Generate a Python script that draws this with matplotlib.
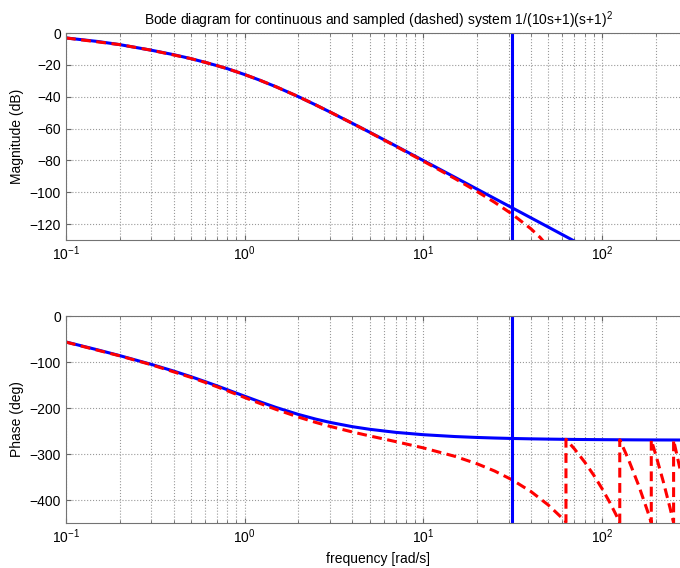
import numpy as np
import matplotlib.pyplot as plt

plt.rcParams['font.family'] = ['Liberation Sans', 'DejaVu Sans']
plt.rcParams['mathtext.default'] = 'regular'

# frequencies [rad/s] and values
w_c = [0.1, 0.15, 0.2, 0.3, 0.4, 0.5, 0.6, 0.7, 0.8, 1, 1.2, 1.5, 2, 2.5, 3, 4,
       5, 7, 10, 15, 20, 25, 31.4, 40, 50, 70, 100, 150, 200, 314]
mag_c = [-3.1, -5.3, -7.3, -10.8, -13.6, -16.1, -18.4, -20.5, -22.4, -26.1,
         -29.4, -33.8, -40.0, -45.2, -49.6, -56.7, -62.3, -70.9, -80.1, -90.6,
         -98.1, -103.9, -109.8, -116.1, -121.9, -130.7, -140, -150, -158, -170]
phase_c = [-56.4, -73.4, -86.1, -105.0, -119.6, -131.8, -142.5, -151.8, -160.2,
           -174.3, -185.6, -198.8, -214.0, -224.1, -231.2, -240.5, -246.2,
           -252.9, -258.0, -262.0, -264.0, -265.2, -266.2, -267.0, -267.6,
           -268.3, -268.8, -269.2, -269.4, -269.6]

w_s_mag = [0.1, 0.2, 0.3, 0.5, 0.6, 0.7, 0.8, 1, 1.2, 1.5, 2, 2.5, 3, 4, 5, 7,
           10, 15, 20, 25, 31.4, 40, 45, 50, 60]
mag_s = [-3.1, -7.3, -10.8, -16.1, -18.4, -20.5, -22.4, -26.1, -29.4, -33.8,
         -40.0, -45.2, -49.6, -56.7, -62.4, -71.1, -80.5, -91.4, -99.6, -106.3,
         -113.8, -123.0, -128.4, -134.4, -153.2]

w_s_ph = [0.1, 0.2, 0.3, 0.5, 0.6, 0.7, 0.8, 1, 1.2, 1.5, 2, 2.5, 3, 4, 5, 7,
          10, 15, 20, 25, 31.4, 40, 50, 60, 62.8,
          62.8, 70, 80, 90, 100, 110, 120, 125.6,
          125.6, 140, 160, 180, 188.5,
          188.5, 200, 220, 240, 251.3,
          251.3, 280, 314]
phase_s = [-56.7, -86.6, -105.8, -133.3, -144.2, -153.8, -162.5, -177.2, -189.1,
           -203.1, -219.7, -231.3, -239.8, -252.0, -260.6, -273.0, -286.7,
           -305.0, -321.3, -336.8, -356.2, -381.6, -410.8, -439.9, -448.1,
           -268.1, -288.8, -317.7, -346.5, -375.3, -404.0, -432.8, -449.0,
           -269.1, -310.3, -367.7, -425.1, -449.4,
           -269.4, -302.4, -359.8, -417.1, -449.5,
           -269.5, -351.7, -449.1]

w_nyq = 31.4

fig = plt.figure(figsize=(6.8, 5.68), dpi=100)
ax1 = fig.add_axes([0.097, 0.5775, 0.919, 0.3644])
ax2 = fig.add_axes([0.097, 0.0792, 0.919, 0.3644])

ax1.semilogx(w_c, mag_c, color='blue', lw=2.2)
ax1.semilogx(w_s_mag, mag_s, color='red', lw=2.2, ls=(0, (3.2, 1.8)))
ax1.axvline(w_nyq, color='blue', lw=2.2)
ax1.set_ylim(-130, 0)
ax1.set_yticks([0, -20, -40, -60, -80, -100, -120])
ax1.set_ylabel('Magnitude (dB)', fontsize=10)
ax1.set_title('Bode diagram for continuous and sampled (dashed) system 1/(10s+1)(s+1)$^2$',
              fontsize=10, pad=6)

ax2.semilogx(w_c, phase_c, color='blue', lw=2.2)
ax2.semilogx(w_s_ph, phase_s, color='red', lw=2.2, ls=(0, (3.2, 1.8)))
ax2.axvline(w_nyq, color='blue', lw=2.2)
ax2.set_ylim(-450, 0)
ax2.set_yticks([0, -100, -200, -300, -400])
ax2.set_ylabel('Phase (deg)', fontsize=10)
ax2.set_xlabel('frequency [rad/s]', fontsize=10)

for ax in (ax1, ax2):
    ax.set_xlim(0.1, 314)
    ax.grid(True, which='major', color='0.6', ls=':', lw=0.8)
    ax.grid(True, which='minor', axis='x', color='0.6', ls=':', lw=0.8)
    ax.tick_params(which='both', direction='in', top=True, right=True,
                   labelsize=10, color='0.4')
    for s in ax.spines.values():
        s.set_color('0.45')

plt.savefig('out.png', dpi=100)
